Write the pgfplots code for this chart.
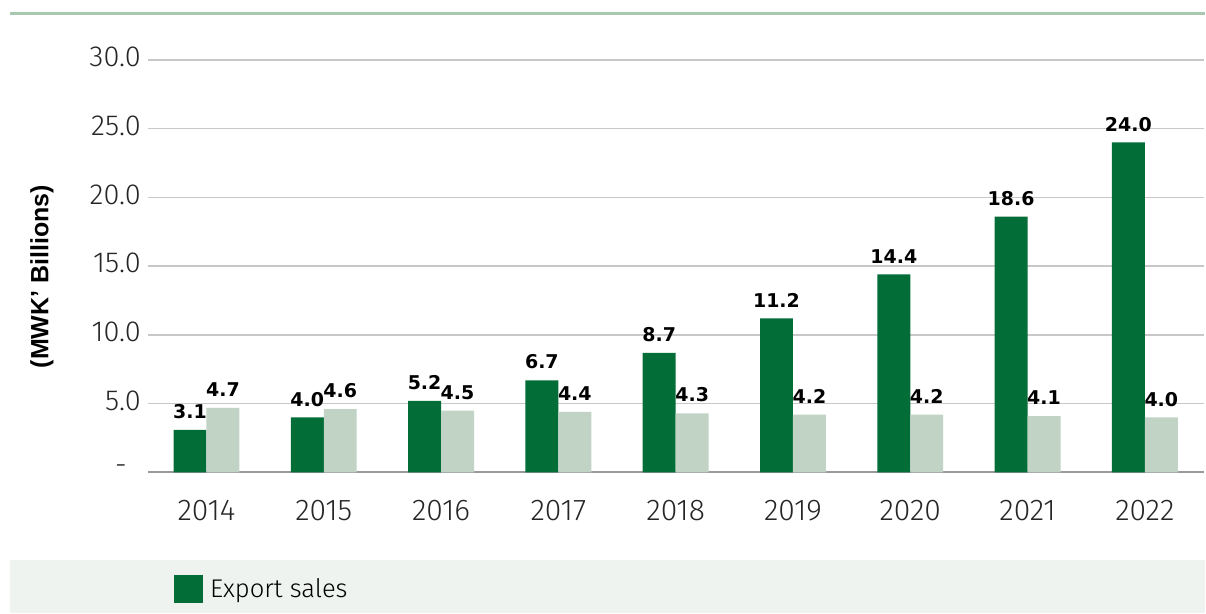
\documentclass[border=0pt]{standalone}
\usepackage{pgfplots}
\pgfplotsset{compat=1.18}
\usepackage{fontspec}
\setmainfont{Fira Sans}[UprightFont={* Light}, BoldFont={* Bold}]
\newfontfamily\valuefont{DejaVu Sans}
\newfontfamily\titlefont{Liberation Sans}

\definecolor{darkgreen}{HTML}{036D38}
\definecolor{sage}{HTML}{C0D3C4}
\definecolor{topline}{HTML}{A8C8B2}
\definecolor{band}{HTML}{EEF3EF}
\definecolor{gridgray}{HTML}{C8C8C8}
\definecolor{axisgray}{HTML}{9A9A9A}

\begin{document}
\begin{tikzpicture}[x=1pt,y=1pt]
  % page frame and decorations
  \path (0,0) rectangle (603,307);
  \fill[band] (5,0) rectangle (603,26.5);
  \draw[topline, line width=1.5pt] (5,300) -- (603,300);

  \begin{axis}[
      at={(74pt,70.5pt)}, anchor=south west,
      scale only axis,
      width=528.5pt, height=206.5pt,
      ybar=0pt, bar width=16.5pt,
      xmin=-0.5, xmax=8.5,
      ymin=0, ymax=30,
      xtick={0,...,8},
      xticklabels={2014,2015,2016,2017,2018,2019,2020,2021,2022},
      ytick={0,5,10,15,20,25,30},
      yticklabels={-\rule{7pt}{0pt},5.0,10.0,15.0,20.0,25.0,30.0},
      axis lines*=left,
      y axis line style={draw=none},
      x axis line style={axisgray, line width=1pt},
      major tick length=0pt,
      ymajorgrids,
      grid style={gridgray, line width=0.75pt},
      tick label style={text=black!85},
      xticklabel style={font=\fontsize{15}{17}\selectfont, yshift=-10.5pt},
      yticklabel style={font=\fontsize{14.5}{17}\selectfont, yshift=1.5pt},
      ylabel={(MWK’ Billions)},
      ylabel style={at={(rel axis cs:-0.1003,0.4746)}, anchor=center,
        font=\titlefont\bfseries\fontsize{12.5}{15}\selectfont},
      /pgf/number format/assume math mode=true,
      nodes near coords={\pgfmathprintnumber[fixed,fixed zerofill,precision=1]{\pgfplotspointmeta}},
      nodes near coords style={font=\valuefont\bfseries\fontsize{9.5}{11}\selectfont,
        text=black, yshift=2pt},
      legend style={at={(0.0246,-0.283)}, anchor=west, draw=none, fill=none,
        inner sep=0pt, font=\fontsize{12.8}{15}\selectfont},
      legend cell align=left,
    ]
    \addplot[fill=darkgreen, draw=none,
      legend image code/.code={\fill[darkgreen] (0pt,-7pt) rectangle (14.5pt,7pt); \path (16pt,0pt);}]
      coordinates {(0,3.1) (1,4.0) (2,5.2) (3,6.7) (4,8.7) (5,11.2) (6,14.4) (7,18.6) (8,24.0)};
    \addlegendentry{Export sales}
    \addplot[fill=sage, draw=none]
      coordinates {(0,4.7) (1,4.6) (2,4.5) (3,4.4) (4,4.3) (5,4.2) (6,4.2) (7,4.1) (8,4.0)};
  \end{axis}
\end{tikzpicture}
\end{document}
